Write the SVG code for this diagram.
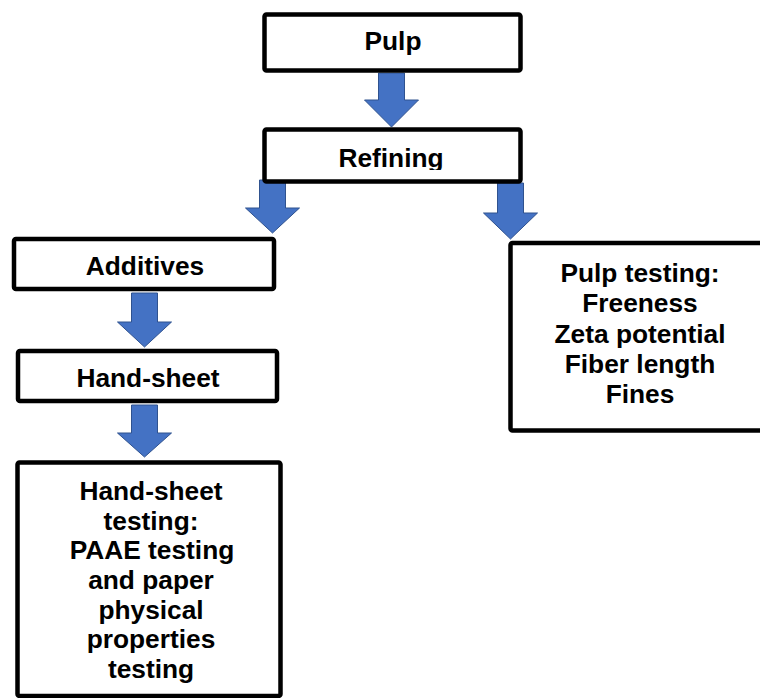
<svg xmlns="http://www.w3.org/2000/svg" width="760" height="698" viewBox="0 0 760 698">
<style>
.box{fill:#fff;stroke:#000;stroke-width:4.5;stroke-linejoin:round}
.lbl{font-family:"Liberation Sans",Arial,sans-serif;font-weight:bold;font-size:26.3px;fill:#000;text-anchor:middle}
.arr{fill:#4472C4;stroke:#2F528F;stroke-width:1}
</style>
<defs>
<clipPath id="refclip"><rect x="262" y="127" width="262" height="43"/></clipPath>
</defs>
<rect width="760" height="698" fill="#fff"/>
<g id="connectors">
<path class="arr" d="M378.5 73 H404.5 V100 H418.5 L391.5 127 L364.5 100 H378.5 Z"/>
<path class="arr" d="M259.5 180 H285.5 V208 H299.5 L272.5 233 L245.5 208 H259.5 Z"/>
<path class="arr" d="M497.5 183 H523.5 V213 H537.5 L510.5 239 L483.5 213 H497.5 Z"/>
<path class="arr" d="M131.5 293 H157.5 V322 H171.5 L144.5 347 L117.5 322 H131.5 Z"/>
<path class="arr" d="M131.5 405 H157.5 V433 H171.5 L144.5 457 L117.5 433 H131.5 Z"/>
</g>
<g id="pulp">
<rect class="box" x="264.5" y="14.5" width="256" height="56" rx="2"/>
<text class="lbl" x="393" y="50">Pulp</text>
</g>
<g id="refining">
<rect class="box" x="264.5" y="129.5" width="256" height="52" rx="2"/>
<text class="lbl" x="391" y="167" clip-path="url(#refclip)">Refining</text>
</g>
<g id="additives">
<rect class="box" x="14" y="239" width="260" height="50" rx="2"/>
<text class="lbl" x="145" y="274.5">Additives</text>
</g>
<g id="handsheet">
<rect class="box" x="18" y="351" width="259" height="50" rx="2"/>
<text class="lbl" x="148" y="387">Hand-sheet</text>
</g>
<g id="handsheet-testing">
<rect class="box" x="17.5" y="462.5" width="263" height="233.5" rx="2"/>
<text class="lbl" x="151" y="500">Hand-sheet</text>
<text class="lbl" x="151" y="529.7">testing:</text>
<text class="lbl" x="152" y="559.3">PAAE testing</text>
<text class="lbl" x="151" y="589">and paper</text>
<text class="lbl" x="151" y="618.7">physical</text>
<text class="lbl" x="151" y="648.4">properties</text>
<text class="lbl" x="151" y="678">testing</text>
</g>
<g id="pulp-testing">
<rect class="box" x="510.5" y="243" width="260" height="187.5" rx="2"/>
<text class="lbl" x="640" y="282">Pulp testing:</text>
<text class="lbl" x="640" y="312.2">Freeness</text>
<text class="lbl" x="640" y="342.5">Zeta potential</text>
<text class="lbl" x="640" y="372.7">Fiber length</text>
<text class="lbl" x="640" y="403">Fines</text>
</g>
</svg>
